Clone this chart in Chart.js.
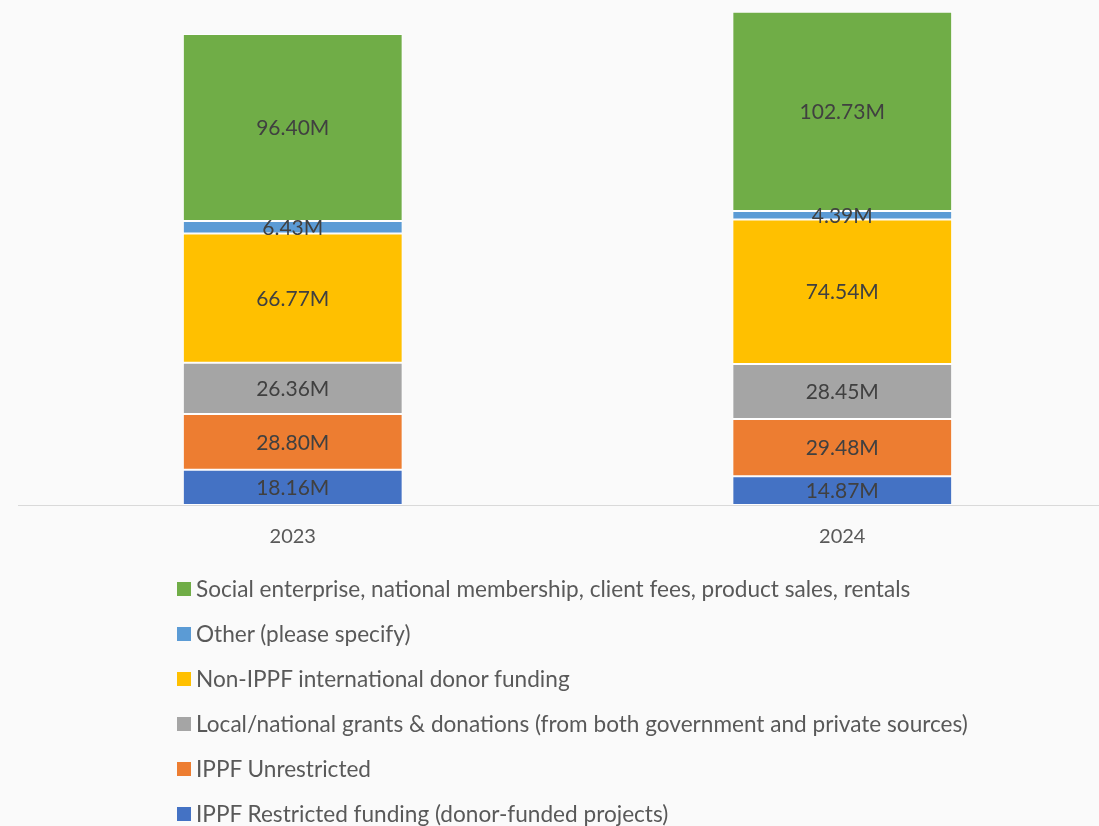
<!DOCTYPE html>
<html>
<head>
<meta charset="utf-8">
<script src="https://cdn.jsdelivr.net/npm/chart.js@4/dist/chart.umd.min.js"></script>
<style>
  html, body { margin: 0; padding: 0; background: #fafafa; overflow: hidden; width: 1099px; height: 826px; }
  #wrap { position: absolute; left: 0; top: 0; width: 1117px; height: 569px; }
  #legend { position: absolute; left: 177px; top: 566px; font-family: Lato, sans-serif; font-size: 22.6px; color: #595959; }
  .item { height: 45px; display: flex; align-items: center; white-space: nowrap; }
  .box { width: 14px; height: 14px; margin-right: 5px; flex: none; }
</style>
</head>
<body>
<div id="wrap"><canvas id="c"></canvas></div>
<div id="legend"></div>
<script>
const categories = ['2023', '2024'];
const seriesNames = [
  'IPPF Restricted funding (donor-funded projects)',
  'IPPF Unrestricted',
  'Local/national grants & donations (from both government and private sources)',
  'Non-IPPF international donor funding',
  'Other (please specify)',
  'Social enterprise, national membership, client fees, product sales, rentals'
];
const restricted   = [18.16, 14.87];
const unrestricted = [28.80, 29.48];
const localGrants  = [26.36, 28.45];
const nonIppf      = [66.77, 74.54];
const other        = [6.43, 4.39];
const social       = [96.40, 102.73];
const seriesValues = [restricted, unrestricted, localGrants, nonIppf, other, social];
const colors = ['#4472c4', '#ed7d31', '#a5a5a5', '#ffc000', '#5b9bd5', '#70ad47'];

const datasets = seriesNames.map((name, i) => ({
  label: name,
  data: seriesValues[i],
  backgroundColor: colors[i],
  borderColor: 'rgba(255,255,255,0.7)',
  borderWidth: 1,
  borderSkipped: false,
  barPercentage: 0.4,
  categoryPercentage: 1.0
}));

const labelPlugin = {
  id: 'segLabels',
  afterDatasetsDraw(chart) {
    const ctx = chart.ctx;
    ctx.save();
    ctx.font = '21px Lato, sans-serif';
    ctx.fillStyle = '#404040';
    ctx.textAlign = 'center';
    ctx.textBaseline = 'middle';
    chart.data.datasets.forEach((ds, di) => {
      const meta = chart.getDatasetMeta(di);
      meta.data.forEach((el, i) => {
        const p = el.getProps(['x', 'y', 'base'], true);
        ctx.fillText(ds.data[i].toFixed(2) + 'M', p.x, (p.y + p.base) / 2 + 1);
      });
    });
    ctx.restore();
  }
};

const chart = new Chart(document.getElementById('c'), {
  type: 'bar',
  data: { labels: categories, datasets },
  options: {
    responsive: true,
    maintainAspectRatio: false,
    animation: false,
    layout: { padding: { left: 18, right: 0, top: 1, bottom: 0 } },
    plugins: { legend: { display: false }, tooltip: { enabled: false } },
    scales: {
      x: {
        stacked: true,
        grid: { display: false, drawTicks: false },
        border: { display: true, color: '#d9d9d9', width: 1 },
        ticks: { color: '#595959', font: { family: 'Lato', size: 20 }, padding: 20 }
      },
      y: {
        stacked: true,
        display: false,
        min: 0,
        max: 260
      }
    }
  },
  plugins: [labelPlugin]
});

const legend = document.getElementById('legend');
for (let i = seriesNames.length - 1; i >= 0; i--) {
  const item = document.createElement('div');
  item.className = 'item';
  const box = document.createElement('span');
  box.className = 'box';
  box.style.background = colors[i];
  const txt = document.createElement('span');
  txt.textContent = seriesNames[i];
  item.appendChild(box);
  item.appendChild(txt);
  legend.appendChild(item);
}
</script>
</body>
</html>
